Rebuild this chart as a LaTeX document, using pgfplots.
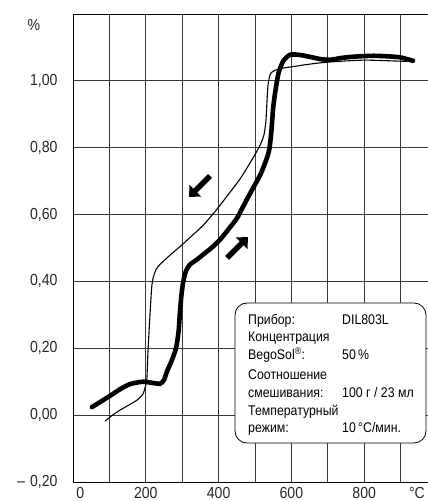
\documentclass[border=0pt]{standalone}
\usepackage{fontspec}
\setmainfont{Liberation Sans}[FakeStretch=0.88]
\usepackage{pgfplots}
\pgfplotsset{compat=1.18}
\usetikzlibrary{arrows.meta}
\begin{document}
\begin{tikzpicture}[x=1pt,y=1pt]
\useasboundingbox (-73,-19) rectangle (355,482);
\begin{axis}[
  at={(0,0)}, anchor=south west,
  scale only axis, width=364pt, height=468pt,
  xmin=0, xmax=1000, ymin=-0.2, ymax=1.2,
  axis line style={black, line width=0.9pt},
  /pgf/number format/assume math mode=true,
  tick label style={font=\fontsize{16}{19}\selectfont, text=black!85},
  xtick={20,200,400,600,800,945},
  xticklabels={0,200,400,600,800,°C},
  ytick={-0.2,0,0.2,0.4,0.6,0.8,1.0},
  yticklabels={{–\hspace{5pt}0,20},{0,00},{0,20},{0,40},{0,60},{0,80},{1,00}},
  yticklabel style={anchor=east, xshift=-12pt},
  xticklabel style={anchor=north, inner sep=0pt, yshift=-5pt},
  major tick length=0pt, minor tick length=0pt,
  minor xtick={100,200,300,400,500,600,700,800,900},
  minor ytick={0,0.2,0.4,0.6,0.8,1.0},
  xminorgrids, yminorgrids,
  minor grid style={black!78, line width=0.8pt},
  clip=true,
]
\addplot[black, line width=1.1pt, smooth, tension=0.4] coordinates {
(88,-0.018) (105,-0.003) (129,0.015) (150,0.028) (176,0.045) (192,0.063) (200,0.09) (203,0.11) (206,0.19) (211,0.29) (216,0.38) (220,0.41) (228,0.435) (240,0.452) (266,0.478) (300,0.51) (330,0.54) (357,0.567) (387,0.605) (404,0.628) (430,0.665) (461,0.71) (495,0.77) (515,0.81) (525,0.84) (530,0.88) (533,0.94) (536,0.99) (542,1.02) (552,1.03) (571,1.037) (600,1.042) (650,1.05) (700,1.056) (800,1.062) (918,1.058)
};
\addplot[black, line width=4.6pt, smooth, tension=0.4, line cap=round] coordinates {
(52,0.024) (102,0.058) (130,0.078) (157,0.093) (192,0.1) (215,0.097) (239,0.094) (250,0.105) (258,0.13) (270,0.16) (283,0.2) (290,0.25) (294,0.31) (298,0.36) (303,0.40) (310,0.43) (321,0.45) (340,0.465) (357,0.48) (380,0.50) (404,0.525) (430,0.56) (451,0.59) (475,0.64) (495,0.68) (515,0.72) (533,0.77) (540,0.80) (545,0.85) (550,0.92) (556,0.97) (565,1.025) (578,1.06) (596,1.078) (620,1.078) (650,1.072) (680,1.065) (706,1.063) (740,1.069) (780,1.073) (827,1.075) (870,1.073) (900,1.07) (934,1.06)
};
\end{axis}
% annotation arrows
\draw[line width=5.5pt, -{Triangle[length=9pt,width=16pt]}] (137,306) -- (116,285);
\draw[line width=5.5pt, -{Triangle[length=9pt,width=16pt]}] (154,224) -- (175,245);
% percent label
\node[font=\fontsize{16}{19}\selectfont, text=black!85] at (-39,457) {\%};
% info box
\draw[fill=white, rounded corners=12pt, line width=0.8pt] (162,39) rectangle (353,179);
\begin{scope}[every node/.style={anchor=base west, inner sep=0pt, font=\fontsize{14}{16}\selectfont}]
\node at (175,157) {Прибор:};
\node at (269,157) {DIL803L};
\node at (175,140) {Концентрация};
\node at (175,122) {BegoSol\textsuperscript{®}:};
\node at (269,122) {50\,\%};
\node at (175,102) {Соотношение};
\node at (175,84) {смешивания:};
\node at (269,84) {100 г / 23 мл};
\node at (175,66) {Температурный};
\node at (175,49) {режим:};
\node at (269,49) {10\,°C/мин.};
\end{scope}
\end{tikzpicture}
\end{document}
